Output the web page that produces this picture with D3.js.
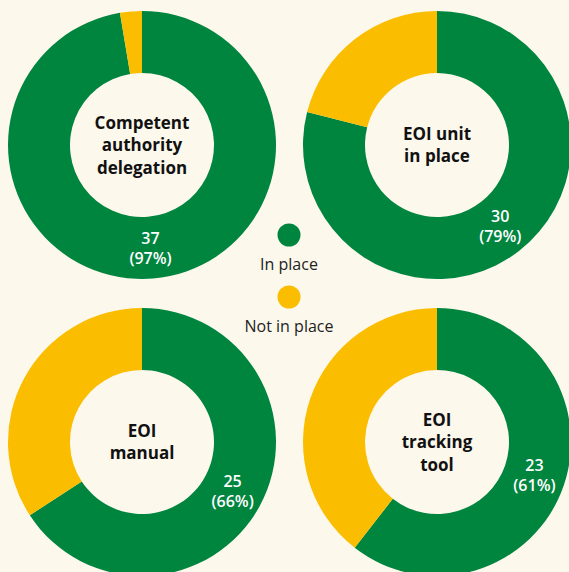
<!DOCTYPE html>
<html>
<head>
<meta charset="utf-8">
<script src="https://cdn.jsdelivr.net/npm/d3@7"></script>
<style>
  html, body { margin: 0; padding: 0; background: #fdf8ec; }
  svg { display: block; }
  text { font-family: "Open Sans", "Noto Sans", sans-serif; }
</style>
</head>
<body>
<div id="chart"></div>
<script>
// data
let titles = [["Competent", "authority", "delegation"], ["EOI unit", "in place"], ["EOI", "manual"], ["EOI", "tracking", "tool"]];
let inPlace = [37, 30, 25, 23];
let notInPlace = [1, 8, 13, 15];
let percents = [97, 79, 66, 61];
let categories = ["In place", "Not in place"];

let width = 569;
let height = 572;
let colors = ["#00853f", "#fbbd00"];
let outerR = 134;
let innerR = 72;

let svg = d3.select("#chart")
  .append("svg")
  .attr("width", width)
  .attr("height", height);

svg.append("rect").attr("width", width).attr("height", height).attr("fill", "#fdf8ec");

// grid placement of the four donuts
let xPos = d3.scalePoint().domain([0, 1]).range([142, 437]);
let yPos = d3.scalePoint().domain([0, 1]).range([145, 442]);

let pie = d3.pie().sort(null).value(d => d);
let arc = d3.arc().innerRadius(innerR).outerRadius(outerR);
let labelArc = d3.arc().innerRadius(103).outerRadius(103);

titles.forEach(function (t, i) {
  let g = svg.append("g")
    .attr("transform", "translate(" + xPos(i % 2) + "," + yPos(Math.floor(i / 2)) + ")");

  let slices = pie([inPlace[i], notInPlace[i]]);

  g.selectAll("path")
    .data(slices)
    .enter()
    .append("path")
    .attr("d", arc)
    .attr("fill", (d, j) => colors[j]);

  // center title
  let lh = 22.5;
  g.selectAll(".title")
    .data(t)
    .enter()
    .append("text")
    .attr("class", "title")
    .attr("text-anchor", "middle")
    .attr("x", 0)
    .attr("y", (d, j) => (j - (t.length - 1) / 2) * lh + 6)
    .attr("font-size", 17)
    .attr("font-weight", 700)
    .attr("fill", "#111")
    .text(d => d);

  // value label on the green slice
  let c = labelArc.centroid(slices[0]);
  let lbl = g.append("text")
    .attr("text-anchor", "middle")
    .attr("fill", "#fff")
    .attr("font-size", 16)
    .attr("font-weight", 600);
  lbl.append("tspan").attr("x", c[0]).attr("y", c[1] - 4).text(inPlace[i]);
  lbl.append("tspan").attr("x", c[0]).attr("y", c[1] + 16).text("(" + percents[i] + "%)");
});

// legend in the middle
let legend = svg.append("g").attr("transform", "translate(289,0)");
let legY = d3.scalePoint().domain(categories).range([235, 297]);

legend.selectAll("circle")
  .data(categories)
  .enter()
  .append("circle")
  .attr("cx", 0)
  .attr("cy", d => legY(d))
  .attr("r", 11.5)
  .attr("fill", (d, j) => colors[j]);

legend.selectAll("text")
  .data(categories)
  .enter()
  .append("text")
  .attr("text-anchor", "middle")
  .attr("x", 0)
  .attr("y", d => legY(d) + 35)
  .attr("font-size", 16)
  .attr("fill", "#222")
  .text(d => d);
</script>
</body>
</html>
